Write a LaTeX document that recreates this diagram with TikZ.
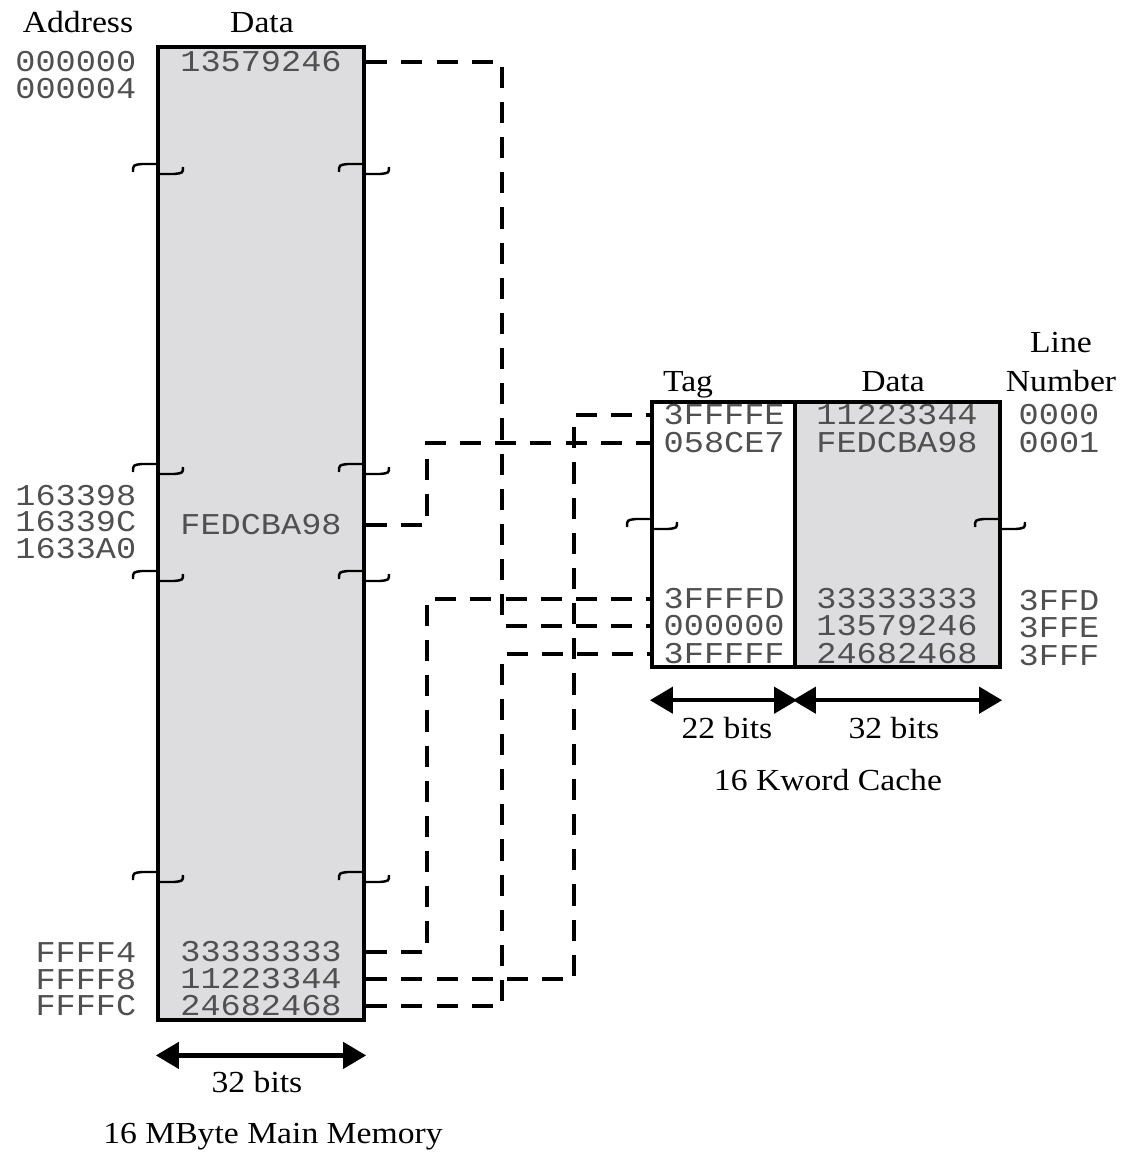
\documentclass[tikz,border=0pt]{standalone}
\usepackage{fontspec}
\setmainfont{Liberation Serif}[FakeStretch=1.1]
\setmonofont{Liberation Mono}[FakeStretch=1.11]
\usepackage{xcolor}
\usepackage{tikz}
\usetikzlibrary{arrows.meta}
\definecolor{memgray}{RGB}{221,221,223}
\definecolor{ink}{RGB}{80,80,80}

\begin{document}
\begin{tikzpicture}[x=0.01cm, y=-0.01cm,
    box/.style={draw, line width=1.2pt, inner sep=0pt},
    hex/.style={font=\fontsize{8.6}{10}\selectfont\ttfamily, text=ink, inner sep=0pt},
    lbl/.style={font=\fontsize{8.7}{10}\selectfont, anchor=base, inner sep=0pt},
    link/.style={line width=0.9pt, dash pattern=on 6pt off 4pt},
    dim/.style={line width=1.2pt, {Triangle[length=0.23cm,width=0.26cm]}-{Triangle[length=0.23cm,width=0.26cm]}},
    brk/.pic={\draw[line width=0.7pt] (-25,3) .. controls (-25,-4) .. (-16,-5) -- (0,-5)
              (0,5) -- (16,5) .. controls (25,4) .. (25,-2);}]
        \useasboundingbox (0,0) rectangle (1121,1152);

        % main memory
        \node[box, fill=memgray, minimum width=2.06cm, minimum height=9.73cm] (mem) at (261,533.5) {};
        \node[lbl] (haddr) at (78,33) {Address};
        \node[lbl] (hdata) at (262,33) {Data};
        \foreach \n/\t/\y in {a0/000000/62, a1/000004/89, a2/163398/496, a3/16339C/522,
                              a4/1633A0/549, a5/FFFF4/953, a6/FFFF8/980, a7/FFFFC/1006} {
          \node[hex, anchor=east] (\n) at (137,\y) {\t};
        }
        \foreach \n/\t/\y in {m0/13579246/62, m1/FEDCBA98/525, m2/33333333/952,
                              m3/11223344/979, m4/24682468/1006} {
          \node[hex] (\n) at (261,\y) {\t};
        }
        \foreach \y in {169,469,576,877} {
          \pic at (158,\y) {brk};
          \pic at (364,\y) {brk};
        }
        \draw[dim] ([yshift=-0.33cm]mem.south west) -- ([yshift=-0.33cm]mem.south east);
        \node[lbl] (mbits) at (257,1092) {32 bits};
        \node[lbl] (mname) at (273,1143) {16 MByte Main Memory};

        % cache
        \node[box, fill=white, minimum width=1.43cm, minimum height=2.65cm] (tagcol) at (723.5,534.5) {};
        \node[box, fill=memgray, minimum width=2.05cm, minimum height=2.65cm] (datcol) at (897.5,534.5) {};
        \node[lbl] (htag) at (688,391) {Tag};
        \node[lbl] (hcdata) at (893,391) {Data};
        \node[lbl] (hline) at (1061,353) {Line};
        \node[lbl] (hnum) at (1061,391) {Number};
        \foreach \i/\tg/\dt/\ln/\y/\yl in {0/3FFFFE/11223344/0000/415/415, 1/058CE7/FEDCBA98/0001/443/443,
                                         2/3FFFFD/33333333/3FFD/599/601, 3/000000/13579246/3FFE/626/628,
                                         4/3FFFFF/24682468/3FFF/654/656} {
          \node[hex, anchor=west] (t\i) at (663,\y) {\tg};
          \node[hex] (c\i) at (897,\y) {\dt};
          \node[hex] (l\i) at (1059,\yl) {\ln};
        }
        \pic at (652,524) {brk};
        \pic at (1000,524) {brk};
        \draw[dim] ([yshift=-0.31cm]tagcol.south west) -- ([yshift=-0.31cm]tagcol.south east);
        \draw[dim] ([yshift=-0.31cm]datcol.south west) -- ([yshift=-0.31cm]datcol.south east);
        \node[lbl] (tbits) at (727,738) {22 bits};
        \node[lbl] (dbits) at (894,738) {32 bits};
        \node[lbl] (cname) at (828,790) {16 Kword Cache};

        % mapping lines
        \coordinate (laneL) at (427,0);
        \coordinate (laneM) at (502,0);
        \coordinate (laneR) at (574,0);
        \draw[link] (mem.east |- m0) -| (laneM |- t3) -- (tagcol.west |- t3);
        \draw[link] (mem.east |- m1) -| (laneL |- t1) -- (tagcol.west |- t1);
        \draw[link] (mem.east |- m2) -| (laneL |- t2) -- (tagcol.west |- t2);
        \draw[link] (mem.east |- m3) -| (laneR |- t0) -- (tagcol.west |- t0);
        \draw[link] (mem.east |- m4) -| (laneM |- t4) -- (tagcol.west |- t4);
      \end{tikzpicture}
\end{document}
